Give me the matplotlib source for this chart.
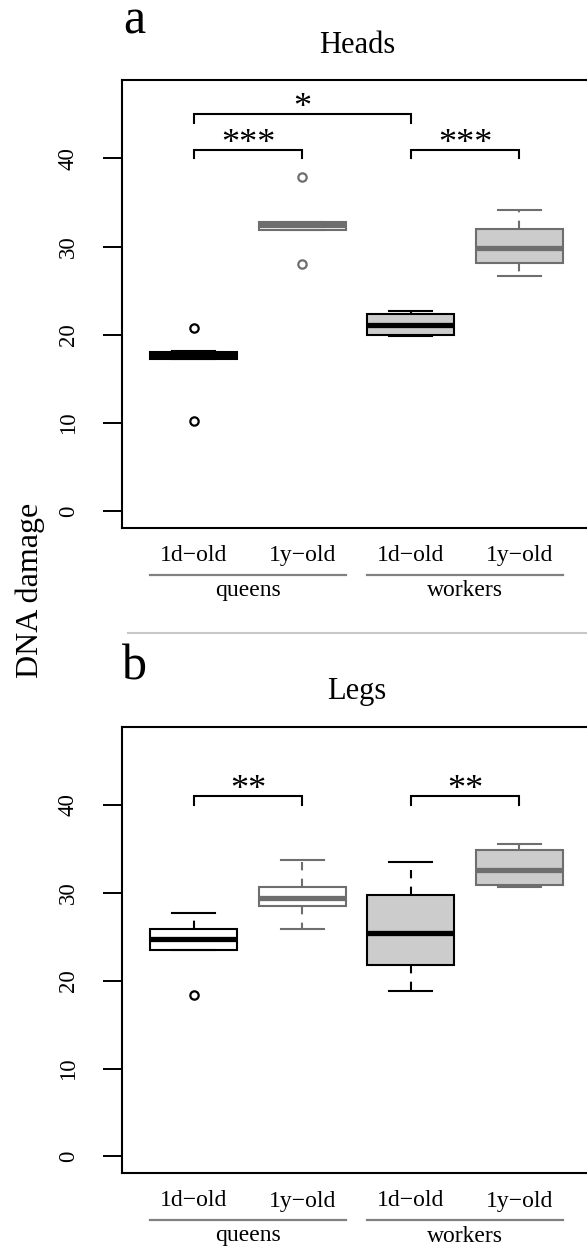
import matplotlib
matplotlib.use("Agg")
import matplotlib.pyplot as plt
from matplotlib.lines import Line2D

plt.rcParams["font.family"] = ["Liberation Serif", "DejaVu Serif"]

W, H = 587, 1252  # figure size in pixels (dpi 100)

ages = ["1d\u2212old", "1y\u2212old", "1d\u2212old", "1y\u2212old"]
castes = ["queens", "workers"]

# box summaries, one value per group
heads_whislo = [17.3, 31.9, 19.9, 26.7]
heads_q1 = [17.3, 31.9, 20.0, 28.1]
heads_med = [17.7, 32.4, 21.1, 29.8]
heads_q3 = [18.1, 32.8, 22.4, 32.0]
heads_whishi = [18.2, 32.8, 22.7, 34.1]
heads_fliers = [[20.8, 10.3], [37.9, 28.0], [], []]

legs_whislo = [23.5, 25.9, 18.8, 30.7]
legs_q1 = [23.5, 28.5, 21.8, 30.9]
legs_med = [24.8, 29.4, 25.4, 32.6]
legs_q3 = [25.9, 30.7, 29.8, 34.9]
legs_whishi = [27.7, 33.7, 33.5, 35.6]
legs_fliers = [[18.4], [], [], []]

# significance brackets: (left group, right group, label, height)
heads_brackets = [(1, 3, "*", 45.0), (1, 2, "***", 41.0), (3, 4, "***", 41.0)]
legs_brackets = [(1, 2, "**", 41.0), (3, 4, "**", 41.0)]

edge_colors = ["black", "#6e6e6e", "black", "#6e6e6e"]
fill_colors = ["white", "white", "#cccccc", "#cccccc"]

fig = plt.figure(figsize=(W / 100, H / 100), dpi=100)


def px_axes(top, bottom, left=122, right=591):
    return fig.add_axes([left / W, 1 - bottom / H, (right - left) / W, (bottom - top) / H])


def draw_panel(ax, whislo, q1, med, q3, whishi, fliers, brackets, height_px):
    stats = []
    for i in range(len(med)):
        stats.append(dict(whislo=whislo[i], q1=q1[i], med=med[i], q3=q3[i],
                          whishi=whishi[i], fliers=fliers[i]))
    parts = ax.bxp(stats, positions=[1, 2, 3, 4], widths=0.8, capwidths=0.4,
                   patch_artist=True, showfliers=True)
    for i in range(4):
        ec = edge_colors[i]
        box = parts["boxes"][i]
        box.set_facecolor(fill_colors[i])
        box.set_edgecolor(ec)
        box.set_linewidth(1.5)
        m = parts["medians"][i]
        m.set_color(ec)
        m.set_linewidth(3.8)
        m.set_solid_capstyle("butt")
        for w in parts["whiskers"][2 * i:2 * i + 2]:
            w.set_color(ec)
            w.set_linewidth(1.5)
            w.set_linestyle((0, (4, 4)))
        for c in parts["caps"][2 * i:2 * i + 2]:
            c.set_color(ec)
            c.set_linewidth(1.5)
        f = parts["fliers"][i]
        f.set_marker("o")
        f.set_markerfacecolor("none")
        f.set_markeredgecolor(ec)
        f.set_markeredgewidth(1.6)
        f.set_markersize(6)

    ax.set_xlim(0.34, 4.66)
    ax.set_ylim(-1.88, 48.88)
    ax.set_yticks([0, 10, 20, 30, 40])
    ax.set_yticklabels(["0", "10", "20", "30", "40"], rotation=90, va="center")
    ax.tick_params(axis="y", length=14, width=1.4, pad=17, labelsize=16.5)
    ax.set_xticks([])
    for s in ax.spines.values():
        s.set_linewidth(1.5)

    for x1, x2, label, h in brackets:
        ax.plot([x1, x1, x2, x2], [h - 1.0, h, h, h - 1.0], color="black",
                lw=1.5, solid_joinstyle="miter")
        ax.text((x1 + x2) / 2, h + 0.6, label, ha="center", va="center", fontsize=26)

    # group labels under the axes
    tr = ax.get_xaxis_transform()
    for i, lab in enumerate(ages):
        ax.text(i + 1, -28 / height_px, lab, transform=tr, ha="center",
                va="center", fontsize=17, clip_on=False)
    for j, caste in enumerate(castes):
        x0 = 2 * j + 1
        ax.plot([x0 - 0.4, x0 + 1.4], [-47 / height_px] * 2, transform=tr,
                color="#808080", lw=1.6, clip_on=False)
        ax.text(x0 + 0.5, -63 / height_px, caste, transform=tr, ha="center",
                va="center", fontsize=17, clip_on=False)


ax_a = px_axes(80, 528)
draw_panel(ax_a, heads_whislo, heads_q1, heads_med, heads_q3, heads_whishi,
           heads_fliers, heads_brackets, 448)
ax_b = px_axes(727, 1173)
draw_panel(ax_b, legs_whislo, legs_q1, legs_med, legs_q3, legs_whishi,
           legs_fliers, legs_brackets, 446)

fig.text(134 / W, 1 - 33 / H, "a", ha="center", va="baseline", fontsize=36)
fig.text(134 / W, 1 - 679 / H, "b", ha="center", va="baseline", fontsize=36)
fig.text(357 / W, 1 - 53 / H, "Heads", ha="center", va="baseline", fontsize=22)
fig.text(357 / W, 1 - 699 / H, "Legs", ha="center", va="baseline", fontsize=22)
fig.text(30 / W, 1 - 590 / H, "DNA damage", ha="center", va="center",
         rotation=90, fontsize=23)

fig.add_artist(Line2D([128 / W, 1], [1 - 633 / H] * 2, color="#c8c8c8", lw=1.5))

fig.savefig("out.png", dpi=100)
